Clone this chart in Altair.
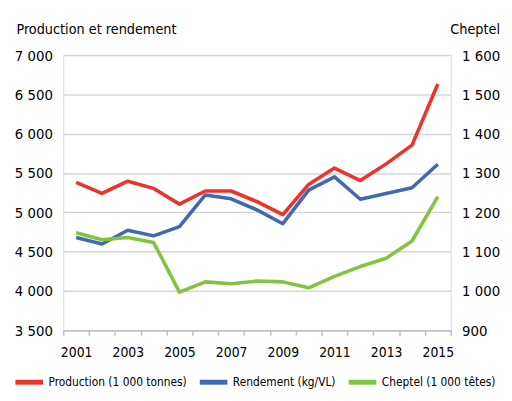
import altair as alt
import pandas as pd

years = list(range(2001, 2016))
production = [5380, 5242, 5396, 5304, 5104, 5271, 5271, 5135, 4971, 5355, 5562, 5404, 5616, 5854, 6633]
rendement = [4680, 4596, 4771, 4700, 4817, 5221, 5171, 5030, 4855, 5283, 5450, 5166, 5239, 5312, 5612]
cheptel = [1148, 1130, 1136, 1123, 997, 1023, 1018, 1025, 1023, 1008, 1037, 1062, 1083, 1127, 1240]

series_names = ["Production (1 000 tonnes)", "Rendement (kg/VL)", "Cheptel (1 000 têtes)"]
series_colors = ["#ec3329", "#4368b2", "#84c341"]
left_ticks = [3500, 4000, 4500, 5000, 5500, 6000, 6500, 7000]
right_ticks = [900, 1000, 1100, 1200, 1300, 1400, 1500, 1600]

rows = []
for name, vals in zip(series_names, [production, rendement, cheptel]):
    for y, v in zip(years, vals):
        rows.append({"year": y, "series": name, "value": v})
df = pd.DataFrame(rows)

FONT = "DejaVu Sans Condensed, Liberation Sans, sans-serif"
fmt = "replace(format(datum.value, ','), ',', ' ')"

x_enc = alt.X(
    "year:O",
    bandPosition=0.5,
    scale=alt.Scale(type="band", paddingInner=0, paddingOuter=0),
    axis=alt.Axis(
        title=None,
        tickBand="extent",
        labelExpr="datum.value % 2 == 1 ? datum.label : ''",
        labelAngle=0,
        labelFont=FONT,
        labelFontSize=14,
        labelColor="#000000",
        labelPadding=11,
        domainColor="#bfbfbf",
        domainWidth=1.5,
        tickColor="#bfbfbf",
        tickWidth=1.5,
        tickSize=5,
        grid=False,
    ),
)

color_enc = alt.Color(
    "series:N",
    scale=alt.Scale(domain=series_names, range=series_colors),
    legend=alt.Legend(
        title=None,
        orient="none",
        legendX=-51,
        legendY=315,
        direction="horizontal",
        symbolType="stroke",
        symbolStrokeWidth=5,
        symbolSize=784,
        labelFont=FONT,
        labelFontSize=12,
        labelColor="#000000",
        labelLimit=300,
        labelOffset=3,
        columnPadding=2,
    ),
)

def y_axis(ticks, title, title_x, orient, grid):
    return alt.Axis(
        values=ticks,
        labelExpr=fmt,
        title=title,
        titleAngle=0,
        titleAlign="left",
        titleBaseline="alphabetic",
        titleX=title_x,
        titleY=-22,
        titleFont=FONT,
        titleFontSize=14.5,
        titleFontWeight="normal",
        titleColor="#000000",
        labelFont=FONT,
        labelFontSize=15,
        labelColor="#000000",
        labelPadding=11,
        domain=False,
        ticks=False,
        grid=grid,
        gridColor="#d6d6d6",
        gridWidth=1.5,
        orient=orient,
    )

left = alt.Chart(df).transform_filter(
    alt.datum.series != "Cheptel (1 000 têtes)"
).mark_line(strokeWidth=3.6, strokeJoin="round").encode(
    x=x_enc,
    y=alt.Y(
        "value:Q",
        scale=alt.Scale(domain=[3500, 7000], nice=False, zero=False),
        axis=y_axis(left_ticks, "Production et rendement", -48, "left", True),
    ),
    color=color_enc,
)

right = alt.Chart(df).transform_filter(
    alt.datum.series == "Cheptel (1 000 têtes)"
).mark_line(strokeWidth=3.6, strokeJoin="round").encode(
    x=x_enc,
    y=alt.Y(
        "value:Q",
        scale=alt.Scale(domain=[900, 1600], nice=False, zero=False),
        axis=y_axis(right_ticks, "Cheptel", -1, "right", False),
    ),
    color=color_enc,
)

chart = alt.layer(left, right).resolve_scale(y="independent").properties(
    width=393,
    height=279,
    autosize=alt.AutoSizeParams(type="none"),
    padding={"left": 56, "top": 45, "right": 54, "bottom": 66},
).configure_view(stroke=None).configure(background="white")

chart.save("out.html", embed_options={"renderer": "svg", "actions": False})
